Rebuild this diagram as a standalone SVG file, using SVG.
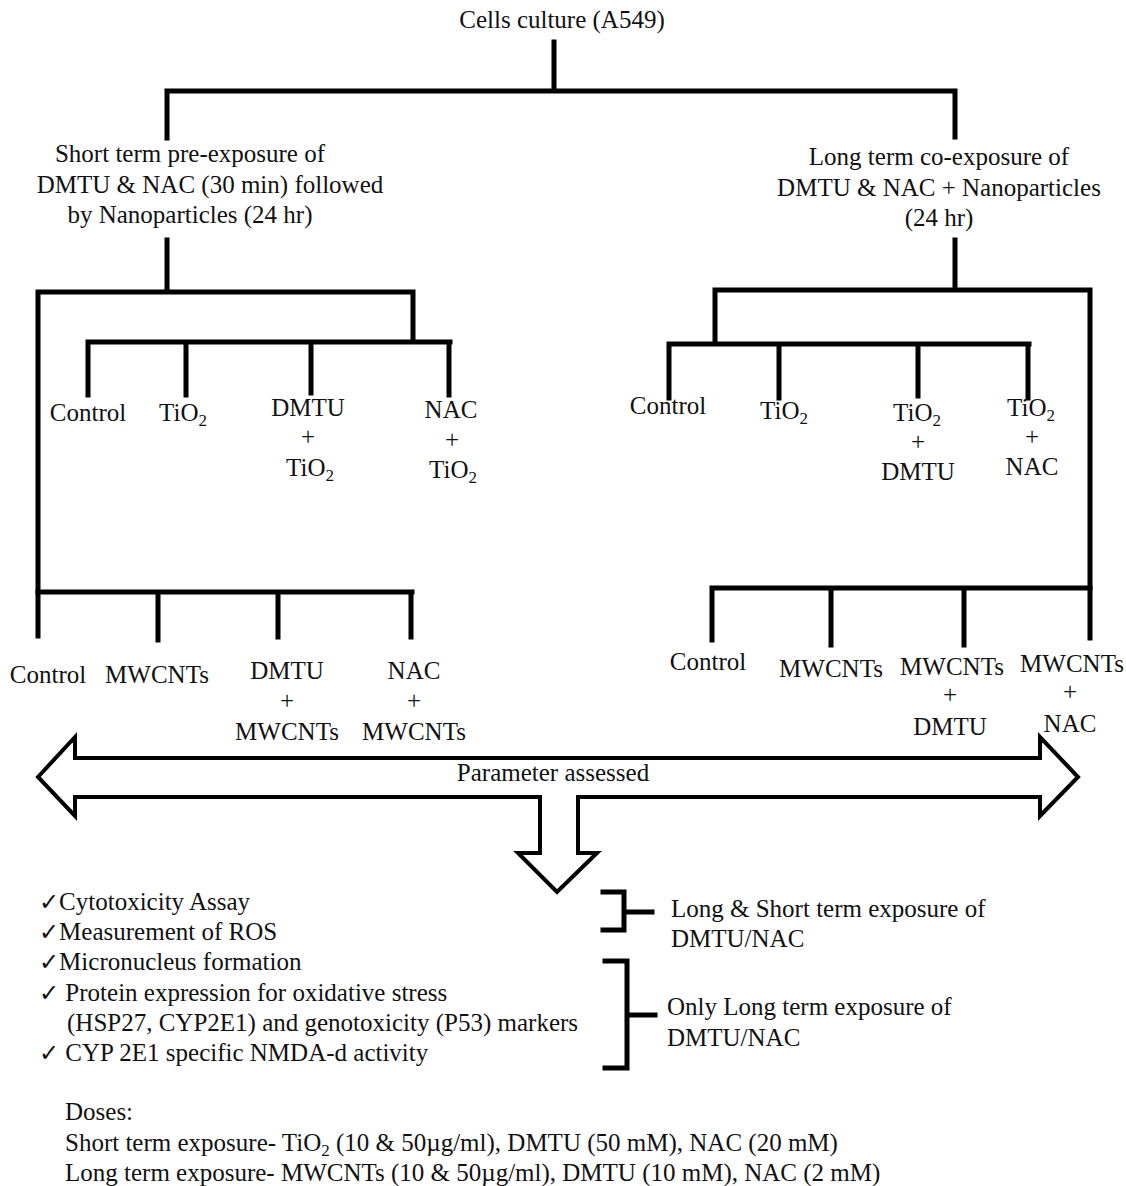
<svg xmlns="http://www.w3.org/2000/svg" width="1126" height="1186" viewBox="0 0 1126 1186">
<style>
text{font-family:"Liberation Serif","Times New Roman",serif;font-size:25px;fill:#111;}
.c{text-anchor:middle;}
.ln{fill:none;stroke:#000;stroke-width:5;stroke-linecap:square;}
.ck{font-family:"DejaVu Sans",sans-serif;font-size:24px;}
.sub{font-size:17px;}
</style>
<rect width="1126" height="1186" fill="#fff"/>
<g id="connectors">
<path class="ln" d="M554,42V91M167,91H955M167,91V138M955,91V137"/>
<path class="ln" d="M167,240V292M38,292H413M38,292V636M413,292V342M88,342H450M88,342V395M186,342V395M311,342V393M449,342V395"/>
<path class="ln" d="M955,240V290M715,290H1090M1090,290V638M715,290V344M669,344H1029M669,344V398M779,344V398M918,344V396M1028,344V398"/>
<path class="ln" d="M38,592H412M158,592V640M278,592V637M411,592V637"/>
<path class="ln" d="M712,588H1090M712,588V640M831,588V645M964,588V645"/>
</g>
<g id="root"><text class="c" x="562" y="28">Cells culture (A549)</text></g>
<g id="short-term">
<text class="c" x="190" y="162">Short term pre-exposure  of</text>
<text class="c" x="210" y="193">DMTU &amp; NAC  (30 min)  followed</text>
<text class="c" x="190" y="223">by  Nanoparticles (24 hr)</text>
</g>
<g id="long-term">
<text class="c" x="939" y="165">Long term co-exposure  of</text>
<text class="c" x="939" y="196">DMTU &amp; NAC + Nanoparticles</text>
<text class="c" x="939" y="226">(24 hr)</text>
</g>
<g id="s-control"><text class="c" x="88" y="421">Control</text></g>
<g id="s-tio2"><text class="c" x="183" y="421">TiO<tspan class="sub" dy="5">2</tspan></text></g>
<g id="s-dmtu-tio2"><text class="c" x="308" y="416">DMTU</text><text class="c" x="308" y="445">+</text><text class="c" x="310" y="476">TiO<tspan class="sub" dy="5">2</tspan></text></g>
<g id="s-nac-tio2"><text class="c" x="451" y="418">NAC</text><text class="c" x="452" y="448">+</text><text class="c" x="453" y="478">TiO<tspan class="sub" dy="5">2</tspan></text></g>
<g id="l-control"><text class="c" x="668" y="414">Control</text></g>
<g id="l-tio2"><text class="c" x="784" y="419">TiO<tspan class="sub" dy="5">2</tspan></text></g>
<g id="l-tio2-dmtu"><text class="c" x="917" y="421">TiO<tspan class="sub" dy="5">2</tspan></text><text class="c" x="918" y="450">+</text><text class="c" x="918" y="480">DMTU</text></g>
<g id="l-tio2-nac"><text class="c" x="1031" y="416">TiO<tspan class="sub" dy="5">2</tspan></text><text class="c" x="1032" y="445">+</text><text class="c" x="1032" y="475">NAC</text></g>
<g id="s-control2"><text class="c" x="48" y="683">Control</text></g>
<g id="s-mwcnts"><text class="c" x="157" y="683">MWCNTs</text></g>
<g id="s-dmtu-mwcnts"><text class="c" x="287" y="679">DMTU</text><text class="c" x="287" y="709">+</text><text class="c" x="287" y="740">MWCNTs</text></g>
<g id="s-nac-mwcnts"><text class="c" x="414" y="679">NAC</text><text class="c" x="414" y="709">+</text><text class="c" x="414" y="740">MWCNTs</text></g>
<g id="l-control2"><text class="c" x="708" y="670">Control</text></g>
<g id="l-mwcnts"><text class="c" x="831" y="677">MWCNTs</text></g>
<g id="l-mwcnts-dmtu"><text class="c" x="952" y="675">MWCNTs</text><text class="c" x="950" y="703">+</text><text class="c" x="950" y="735">DMTU</text></g>
<g id="l-mwcnts-nac"><text class="c" x="1072" y="672">MWCNTs</text><text class="c" x="1070" y="700">+</text><text class="c" x="1070" y="732">NAC</text></g>
<g id="parameter-arrow">
<path d="M38,777L75,737V758H1040V737L1078,777L1040,816V797H578V853H597L557,892L518,853H540V797H75V816Z" fill="#fff" stroke="#000" stroke-width="4" stroke-linejoin="miter"/>
<text class="c" x="553" y="781">Parameter assessed</text>
</g>
<g id="parameters">
<text x="39" y="910"><tspan class="ck">✓</tspan>Cytotoxicity Assay</text>
<text x="39" y="940"><tspan class="ck">✓</tspan>Measurement of ROS</text>
<text x="39" y="970"><tspan class="ck">✓</tspan>Micronucleus  formation</text>
<text x="39" y="1001"><tspan class="ck">✓</tspan> Protein expression  for oxidative stress</text>
<text x="67" y="1031">(HSP27, CYP2E1) and genotoxicity (P53) markers</text>
<text x="39" y="1061"><tspan class="ck">✓</tspan> CYP 2E1 specific NMDA-d activity</text>
</g>
<g id="bracket-both">
<path class="ln" d="M603,892H624V930H603M624,912H652" stroke-linecap="butt"/>
<text x="671" y="917">Long &amp; Short term exposure of</text>
<text x="671" y="947">DMTU/NAC</text>
</g>
<g id="bracket-long">
<path class="ln" d="M605,961H627V1068H605M627,1015H655" stroke-linecap="butt"/>
<text x="667" y="1015">Only Long term exposure of</text>
<text x="667" y="1046">DMTU/NAC</text>
</g>
<g id="doses">
<text x="65" y="1120">Doses:</text>
<text x="65" y="1151">Short term exposure- TiO<tspan class="sub" dy="5">2</tspan><tspan dy="-5"> (10 &amp; 50µg/ml), DMTU (50 mM), NAC (20 mM)</tspan></text>
<text x="65" y="1181">Long term exposure- MWCNTs (10 &amp; 50µg/ml), DMTU (10 mM), NAC (2 mM)</text>
</g>
</svg>
